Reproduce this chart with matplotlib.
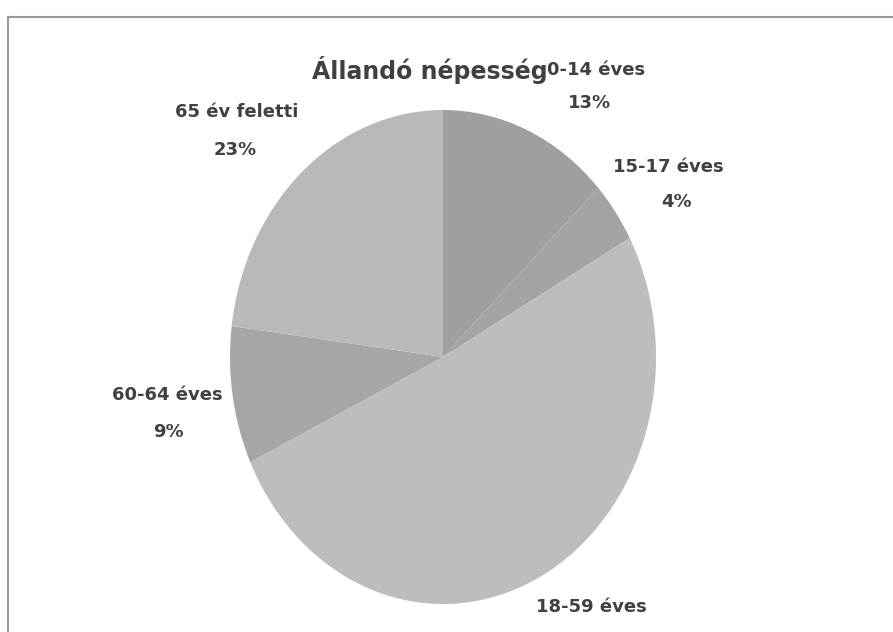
import matplotlib.pyplot as plt
from matplotlib.lines import Line2D

# data
labels = ['0-14 éves', '15-17 éves', '18-59 éves', '60-64 éves', '65 év feletti']
shares = [13, 4, 51, 9, 23]
colors = ['#9f9f9f', '#a3a3a3', '#bdbdbd', '#a6a6a6', '#b9b9b9']

# label centres in figure pixels (x, y from top) - Excel put them by hand
# the 18-59 percentage falls below the scan, so it has no spot
label_pos = [(596, 70), (668, 167), (591, 607), (167, 395), (237, 112)]
pct_pos = [(590, 103), (677, 202), None, (168, 432), (235, 150)]

W, H = 893, 632
fig = plt.figure(figsize=(W / 100, H / 100), dpi=100)
fig.patch.set_facecolor('white')

# pie is squashed in the source, so give it a tall axes with auto aspect
cx, cy, rw, rh = 443, 357, 213, 247
ax = fig.add_axes([(cx - rw) / W, (H - cy - rh) / H, 2 * rw / W, 2 * rh / H])
ax.pie(shares, colors=colors, startangle=90, counterclock=False, radius=1,
       wedgeprops={'linewidth': 0})
ax.set_xlim(-1, 1)
ax.set_ylim(-1, 1)
ax.set_aspect('auto')
ax.axis('off')

font = ['DejaVu Sans']
txt_color = '#404040'
total = sum(shares)
for name, val, (lx, ly), pp in zip(labels, shares, label_pos, pct_pos):
    fig.text(lx / W, 1 - ly / H, name, ha='center', va='center', fontsize=13,
             fontweight='bold', family=font, color=txt_color)
    if pp is not None:
        fig.text(pp[0] / W, 1 - pp[1] / H, f'{round(val * 100 / total)}%',
                 ha='center', va='center', fontsize=13, fontweight='bold',
                 family=font, color=txt_color)

fig.text(430 / W, 1 - 70 / H, 'Állandó népesség', ha='center', va='center',
         fontsize=17, fontweight='bold', family=font, color=txt_color)

# chart frame: only top and left edges show in the scan
fig.add_artist(Line2D([8 / W, 1], [1 - 17 / H, 1 - 17 / H], color='#9a9a9a', lw=1.5))
fig.add_artist(Line2D([8 / W, 8 / W], [0, 1 - 17 / H], color='#9a9a9a', lw=1.5))

fig.savefig('out.png', dpi=100)
